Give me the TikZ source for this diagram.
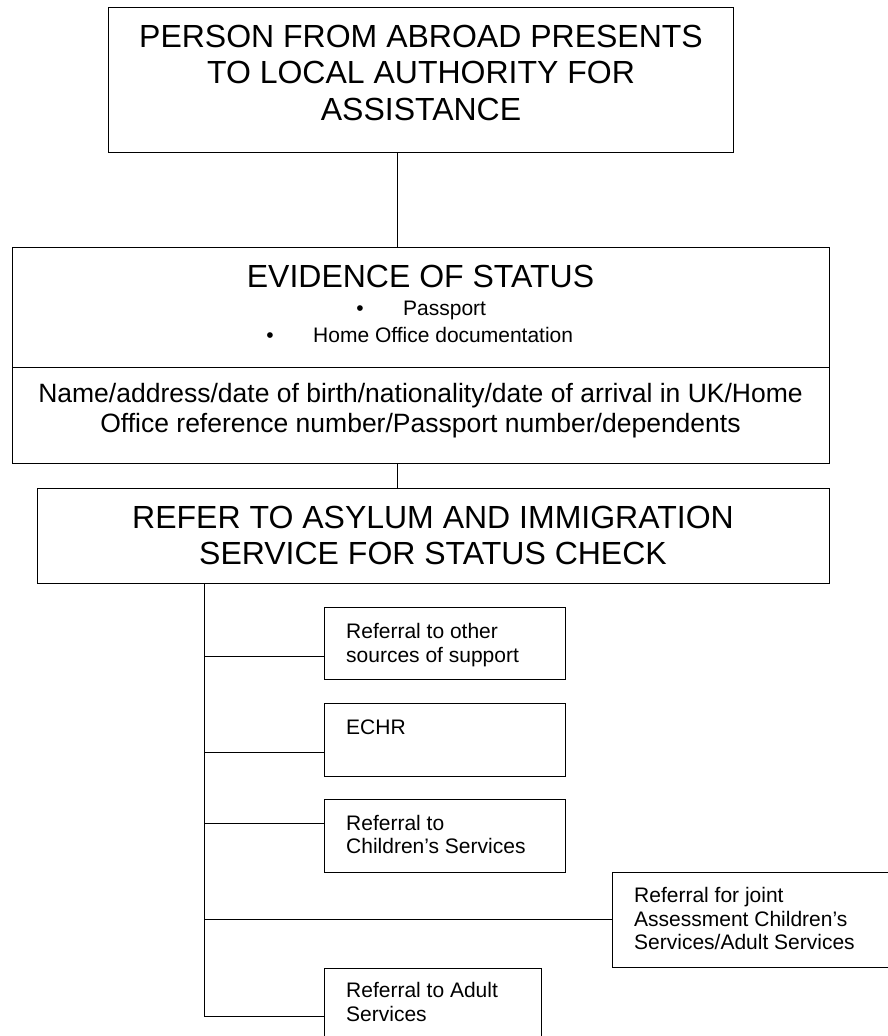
\documentclass[tikz,border=0pt]{standalone}
\usepackage{fontspec}
\setmainfont{Liberation Sans}
\begin{document}
\begin{tikzpicture}[x=1pt,y=-1pt,
  box/.style={draw, line width=1pt, inner sep=0pt, anchor=north west},
  big/.style={font=\fontsize{32}{37}\selectfont, inner sep=0pt, anchor=base},
  mid/.style={font=\fontsize{26.5}{30}\selectfont, inner sep=0pt, anchor=base},
  small/.style={font=\fontsize{21}{23.5}\selectfont, inner sep=0pt, anchor=base west},
  conn/.style={line width=1pt}]
\useasboundingbox (0,0) rectangle (888,1036);
\clip (0,0) rectangle (888,1036);
% boxes
\node[box, minimum width=625pt, minimum height=145pt] (top) at (108,7) {};
\node[box, minimum width=817pt, minimum height=216pt] (ev) at (12,247) {};
\node[box, minimum width=792pt, minimum height=95pt] (ref) at (37,488) {};
\node[box, minimum width=241pt, minimum height=72pt] (b1) at (324,607) {};
\node[box, minimum width=241pt, minimum height=73pt] (b2) at (324,703) {};
\node[box, minimum width=241pt, minimum height=73pt] (b3) at (324,799) {};
\node[box, minimum width=300pt, minimum height=95pt] (b4) at (612,872) {};
\node[box, minimum width=217pt, minimum height=90pt] (b5) at (324,968) {};
% divider in evidence box
\coordinate (divy) at (0,367);
\draw[conn] (ev.west |- divy) -- (ev.east |- divy);
% texts
\node[big] (t1a) at (421,47) {PERSON FROM ABROAD PRESENTS};
\node[big] (t1b) at (421,83.5) {TO LOCAL AUTHORITY FOR};
\node[big] (t1c) at (421,120) {ASSISTANCE};
\node[big] (t2a) at (420.5,287) {EVIDENCE OF STATUS};
\node[small, anchor=base] (bul1) at (360,315) {•};
\node[small] (t2b) at (403,315) {Passport};
\node[small, anchor=base] (bul2) at (270,342) {•};
\node[small] (t2c) at (313,342) {Home Office documentation};
\node[mid] (t3a) at (420.5,402) {Name/address/date of birth/nationality/date of arrival in UK/Home};
\node[mid] (t3b) at (420.5,432) {Office reference number/Passport number/dependents};
\node[big] (t4a) at (433,528) {REFER TO ASYLUM AND IMMIGRATION};
\node[big] (t4b) at (433,564) {SERVICE FOR STATUS CHECK};
\node[small] (t5a) at (346,638.5) {Referral to other};
\node[small] (t5b) at (346,662) {sources of support};
\node[small] (t6a) at (346,734.5) {ECHR};
\node[small] (t7a) at (346,830) {Referral to};
\node[small] (t7b) at (346,853.5) {Children’s Services};
\node[small] (t8a) at (634,902.5) {Referral for joint};
\node[small] (t8b) at (634,926) {Assessment Children’s};
\node[small] (t8c) at (634,949.5) {Services/Adult Services};
\node[small] (t9a) at (346,997.5) {Referral to Adult};
\node[small] (t9b) at (346,1021) {Services};
% connectors
\coordinate (c1) at (397,0);
\coordinate (trunk) at (204,0);
\coordinate (y1) at (0,656);
\coordinate (y2) at (0,752);
\coordinate (y3) at (0,823);
\coordinate (y4) at (0,919);
\coordinate (y5) at (0,1016);
\draw[conn] (top.south -| c1) -- (ev.north -| c1);
\draw[conn] (ev.south -| c1) -- (ref.north -| c1);
\draw[conn] (ref.south -| trunk) -- (trunk |- y5) -- (b5.west |- y5);
\draw[conn] (trunk |- y1) -- (b1.west |- y1);
\draw[conn] (trunk |- y2) -- (b2.west |- y2);
\draw[conn] (trunk |- y3) -- (b3.west |- y3);
\draw[conn] (trunk |- y4) -- (b4.west |- y4);
\end{tikzpicture}
\end{document}
